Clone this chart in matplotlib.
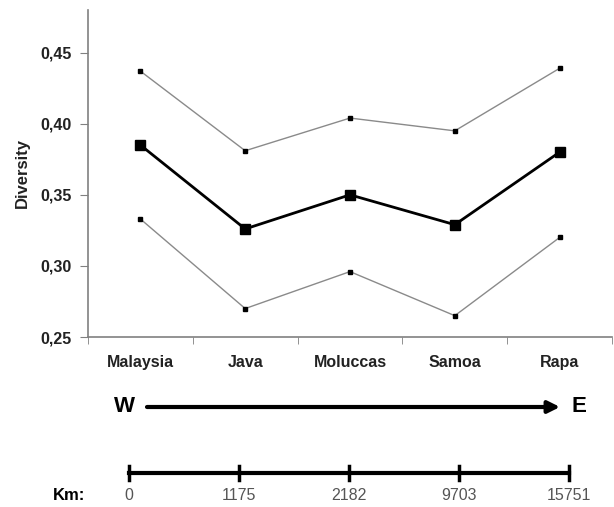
import matplotlib
matplotlib.use("Agg")
import matplotlib.pyplot as plt
import numpy as np

categories = ["Malaysia", "Java", "Moluccas", "Samoa", "Rapa"]
upper = [0.437, 0.381, 0.404, 0.395, 0.439]
mean = [0.385, 0.326, 0.350, 0.329, 0.380]
lower = [0.333, 0.270, 0.296, 0.265, 0.320]
yticks = [0.25, 0.30, 0.35, 0.40, 0.45]
km_labels = ["0", "1175", "2182", "9703", "15751"]

plt.rcParams['font.family'] = ['Liberation Sans', 'DejaVu Sans']

W, H = 614, 507
fig = plt.figure(figsize=(W / 100, H / 100), dpi=100)
ax = fig.add_axes([88 / W, 1 - 337 / H, (612 - 88) / W, (337 - 10) / H])

x = np.arange(len(categories))
ax.plot(x, upper, color='#8a8a8a', lw=1.0, marker='s', ms=3.5, mfc='black', mec='black', zorder=3)
ax.plot(x, lower, color='#8a8a8a', lw=1.0, marker='s', ms=3.5, mfc='black', mec='black', zorder=3)
ax.plot(x, mean, color='black', lw=2.0, marker='s', ms=7.5, mfc='black', mec='black', zorder=4)

ax.set_xlim(-0.5, len(categories) - 0.5)
ax.set_ylim(0.25, 0.48)
ax.set_yticks(yticks)
ax.set_yticklabels([f"{v:.2f}".replace('.', ',') for v in yticks], fontsize=11.5, fontweight='bold', color='#222222')
ax.set_xticks(x)
ax.set_xticklabels(categories, fontsize=11.5, fontweight='bold', color='#222222')
ax.set_xticks(np.arange(-0.5, len(categories)), minor=True)
ax.tick_params(axis='x', which='major', length=0, pad=13)
ax.tick_params(axis='x', which='minor', length=5, direction='out', color='#808080')
ax.tick_params(axis='y', length=6, direction='out', color='#808080', pad=6)
for s in ['top', 'right']:
    ax.spines[s].set_visible(False)
for s in ['left', 'bottom']:
    ax.spines[s].set_color('#808080')
    ax.spines[s].set_linewidth(1.2)
ax.set_ylabel("Diversity", fontsize=12, fontweight='bold', color='#222222', labelpad=7)

# overlay in pixel coordinates for the direction arrow and distance scale
ov = fig.add_axes([0, 0, 1, 1])
ov.set_xlim(0, W)
ov.set_ylim(H, 0)
ov.axis('off')
ov.patch.set_alpha(0)

ov.text(124, 407, "W", fontsize=16, fontweight='bold', ha='center', va='center')
ov.text(579, 407, "E", fontsize=16, fontweight='bold', ha='center', va='center')
ov.annotate("", xy=(560, 407), xytext=(147, 407),
            arrowprops=dict(arrowstyle='-|>,head_length=0.7,head_width=0.35', lw=3, color='black',
                            shrinkA=0, shrinkB=0))

kx = np.linspace(129, 569, len(km_labels))
ov.plot([kx[0], kx[-1]], [473, 473], color='black', lw=3)
for xi, lab in zip(kx, km_labels):
    ov.plot([xi, xi], [466, 480], color='black', lw=2.5)
    ov.text(xi, 496, lab, fontsize=11.5, ha='center', va='center', color='#555555')
ov.text(69, 496, "Km:", fontsize=12, fontweight='bold', ha='center', va='center')

fig.savefig("out.png", dpi=100)
